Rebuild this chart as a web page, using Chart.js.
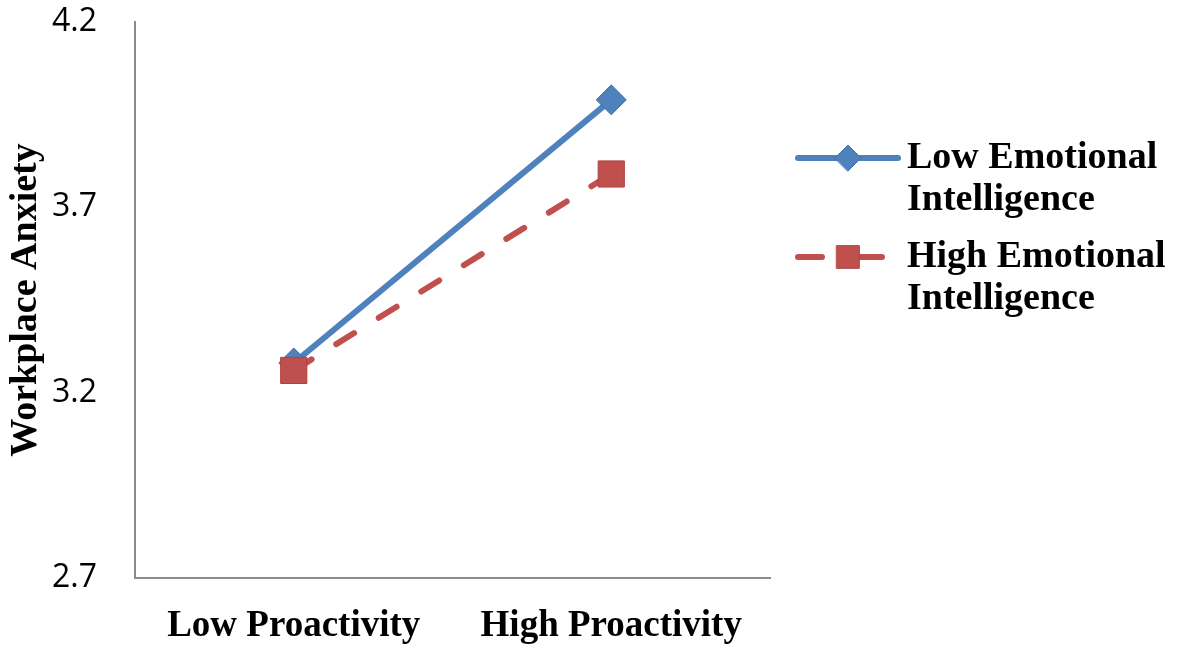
<!DOCTYPE html>
<html>
<head>
<meta charset="utf-8">
<script src="https://cdn.jsdelivr.net/npm/chart.js@4.4.1/dist/chart.umd.min.js"></script>
<style>
  html, body { margin: 0; padding: 0; background: #fff; }
  #wrap { width: 1181px; height: 653px; }
</style>
</head>
<body>
<div id="wrap"><canvas id="myChart" width="1181" height="653"></canvas></div>
<script>
// data
const categories = ['Low Proactivity', 'High Proactivity'];
const seriesNames = ['Low Emotional Intelligence', 'High Emotional Intelligence'];
const lowEI = [3.28, 3.99];
const highEI = [3.26, 3.79];
const yTicks = [2.7, 3.2, 3.7, 4.2];
const yTitle = 'Workplace Anxiety';

const blue = '#4F81BD';
const red = '#C0504D';

// legend on the right, two lines per item
const sideLegend = {
  id: 'sideLegend',
  afterDraw(chart) {
    const ctx = chart.ctx;
    const area = chart.chartArea;
    const x0 = area.right + 28, x1 = x0 + 100, tx = x1 + 9;
    let y = 158;
    chart.data.datasets.forEach((ds) => {
      ctx.save();
      ctx.strokeStyle = ds.borderColor;
      ctx.lineWidth = ds.borderWidth;
      ctx.lineCap = 'round';
      ctx.setLineDash(ds.borderDash ? [24, 36] : []);
      ctx.beginPath();
      ctx.moveTo(x0, y);
      ctx.lineTo(x1, y);
      ctx.stroke();
      ctx.setLineDash([]);
      ctx.fillStyle = ds.pointBackgroundColor;
      ctx.strokeStyle = ds.pointBorderColor;
      ctx.lineWidth = 1;
      Chart.helpers.drawPoint(ctx, {
        pointStyle: ds.pointStyle,
        radius: ds.pointStyle === 'rect' ? 16 : 13,
        borderWidth: 1
      }, (x0 + x1) / 2, y);
      ctx.fillStyle = '#000';
      ctx.font = 'bold 38px "Liberation Serif", "Times New Roman", serif';
      ctx.textBaseline = 'middle';
      const name = ds.label;
      const cut = name.lastIndexOf(' ');
      ctx.fillText(name.slice(0, cut), tx, y);
      ctx.fillText(name.slice(cut + 1), tx, y + 42);
      ctx.restore();
      y += 99;
    });
  }
};

const ctx = document.getElementById('myChart').getContext('2d');
const myChart = new Chart(ctx, {
  type: 'line',
  data: {
    labels: categories,
    datasets: [{
      label: seriesNames[0],
      data: lowEI,
      order: 2,
      borderColor: blue,
      borderWidth: 6,
      pointStyle: 'rectRot',
      pointRadius: 15,
      pointBackgroundColor: blue,
      pointBorderColor: '#3F6FA8',
      pointBorderWidth: 1,
      tension: 0
    }, {
      label: seriesNames[1],
      data: highEI,
      order: 1,
      borderColor: red,
      borderWidth: 6,
      borderDash: [21, 29],
      borderCapStyle: 'round',
      pointStyle: 'rect',
      pointRadius: 18.5,
      pointBackgroundColor: red,
      pointBorderColor: '#B0403D',
      pointBorderWidth: 1,
      tension: 0
    }]
  },
  options: {
    responsive: false,
    animation: false,
    devicePixelRatio: 1,
    layout: { padding: { top: 22, right: 411, left: 0, bottom: 0 } },
    plugins: {
      legend: { display: false },
      tooltip: { enabled: false }
    },
    scales: {
      x: {
        offset: true,
        grid: { display: false, drawTicks: false },
        border: { display: true, color: '#8C8C8C', width: 2 },
        ticks: {
          color: '#000',
          padding: 26,
          font: { family: '"Liberation Serif", "Times New Roman", serif', size: 37, weight: 'bold' }
        },
        afterFit(scale) { scale.height = 75; }
      },
      y: {
        min: 2.7,
        max: 4.2,
        grid: { display: false, drawTicks: false },
        border: { display: true, color: '#8C8C8C', width: 2 },
        afterBuildTicks(scale) { scale.ticks = yTicks.map(v => ({ value: v })); },
        ticks: {
          color: '#000',
          padding: 38,
          callback: (v) => Number(v).toFixed(1),
          font: { family: '"Open Sans", "Liberation Sans", sans-serif', size: 32 }
        },
        title: {
          display: true,
          text: yTitle,
          color: '#000',
          padding: { top: 3, bottom: 0 },
          font: { family: '"Liberation Serif", "Times New Roman", serif', size: 38, weight: 'bold' }
        },
        afterFit(scale) {
          scale.width = 135;
          scale.paddingTop = 0;
          scale.paddingBottom = 0;
        }
      }
    }
  },
  plugins: [sideLegend]
});
</script>
</body>
</html>
